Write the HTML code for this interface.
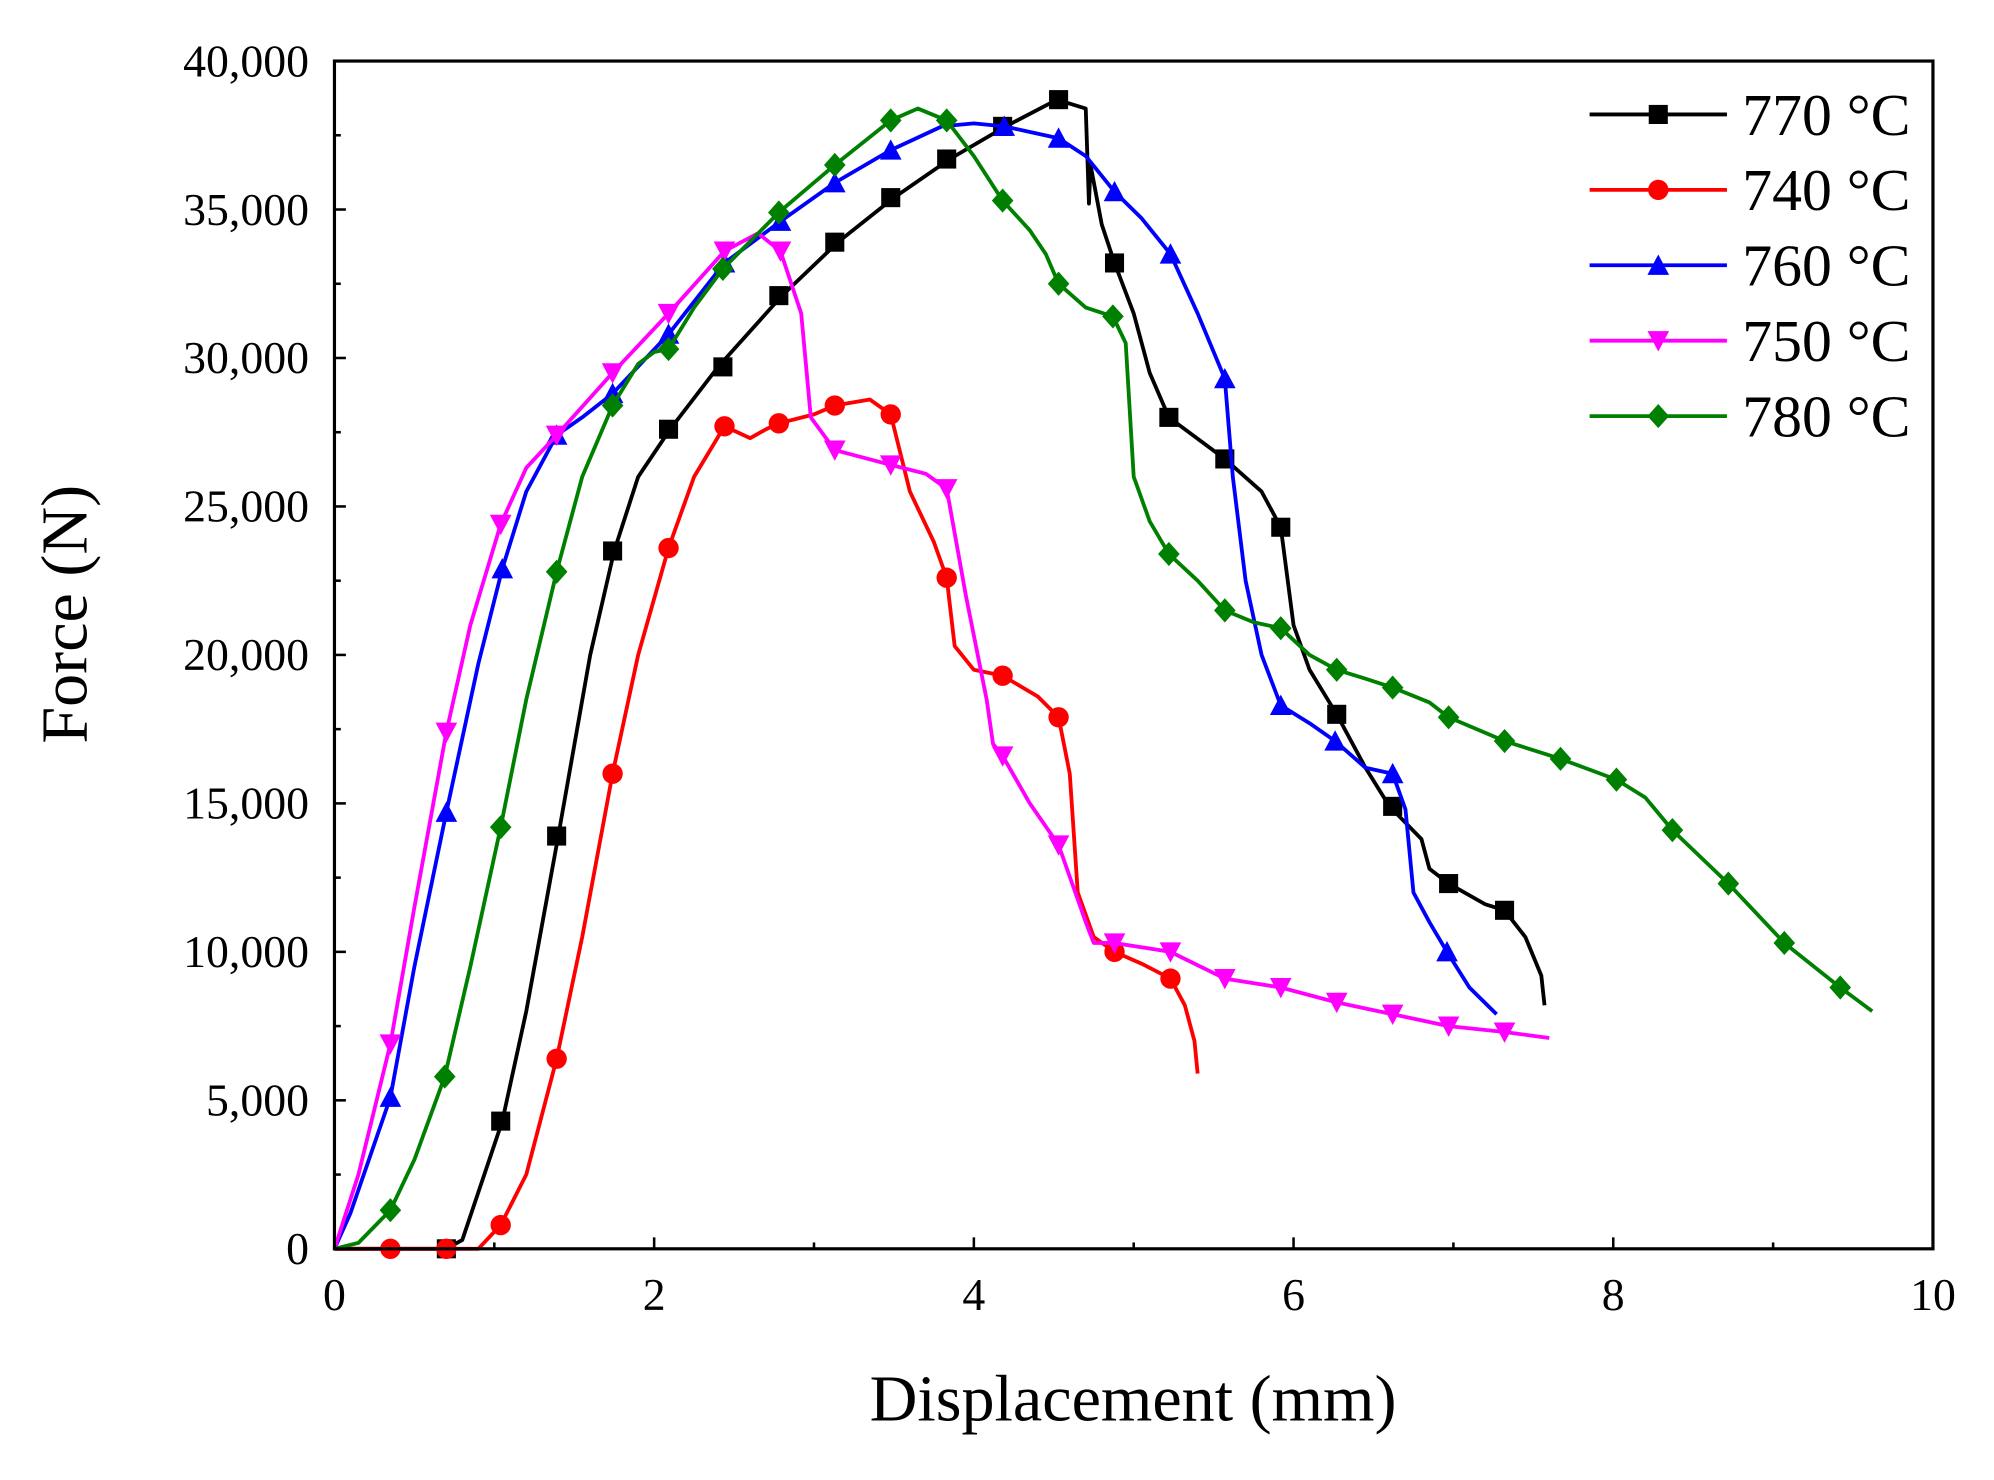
<!DOCTYPE html>
<html><head><meta charset="utf-8"><style>
html,body{margin:0;padding:0;background:#fff;}
svg{display:block;font-family:"Liberation Serif",serif;}
</style></head><body>
<svg id="chart" width="1994" height="1480" viewBox="0 0 1568 1163.8" preserveAspectRatio="none" xmlns="http://www.w3.org/2000/svg">
<rect x="0" y="0" width="1568" height="1164" fill="#fff"/>
<g id="plot"></g>
<g id="axes"></g>
<g id="legend"></g>
</svg>
<script>
const xTicks = [0,2,4,6,8,10];
const yTicks = [0,5000,10000,15000,20000,25000,30000,35000,40000];
const yTickLabels = ["0","5,000","10,000","15,000","20,000","25,000","30,000","35,000","40,000"];
const seriesNames = ["770 °C","740 °C","760 °C","750 °C","780 °C"];
const seriesColors = ["#000000","#ff0000","#0000ff","#ff00ff","#008000"];
const seriesMarkers = ["square","circle","triangle","invtriangle","diamond"];
// line data [mm, kN]
const line770 = [[0,0],[0.7,0],[0.8,0.3],[1.05,4.3],[1.2,8],[1.4,13.9],[1.6,20],[1.75,23.5],[1.9,26],[2.1,27.6],[2.4,29.7],[2.8,32.1],[3.15,33.9],[3.5,35.4],[3.85,36.7],[4.2,37.8],[4.52,38.7],[4.7,38.4],[4.72,35.2],[4.73,36.5],[4.8,34.5],[4.88,33.2],[5.0,31.5],[5.1,29.5],[5.22,28.0],[5.57,26.6],[5.8,25.5],[5.92,24.3],[6.0,21],[6.1,19.5],[6.27,18.0],[6.45,16.2],[6.6,14.9],[6.8,13.8],[6.85,12.8],[6.97,12.3],[7.2,11.6],[7.32,11.4],[7.45,10.5],[7.55,9.2],[7.57,8.2]];
const marks770 = [[0.7,0],[1.04,4.3],[1.39,13.9],[1.74,23.5],[2.09,27.6],[2.43,29.7],[2.78,32.1],[3.13,33.9],[3.48,35.4],[3.83,36.7],[4.18,37.8],[4.53,38.7],[4.88,33.2],[5.22,28.0],[5.57,26.6],[5.92,24.3],[6.27,18.0],[6.62,14.9],[6.97,12.3],[7.32,11.4]];
const line740 = [[0,0],[0.9,0],[1.04,0.8],[1.2,2.5],[1.39,6.4],[1.55,10.5],[1.74,16],[1.9,20],[2.09,23.6],[2.25,26],[2.44,27.7],[2.6,27.3],[2.7,27.6],[2.78,27.8],[3.0,28.1],[3.13,28.4],[3.35,28.6],[3.48,28.1],[3.6,25.5],[3.75,23.8],[3.83,22.6],[3.88,20.3],[4.0,19.5],[4.18,19.3],[4.4,18.6],[4.53,17.9],[4.6,16],[4.65,12],[4.75,10.5],[4.88,10.0],[5.05,9.6],[5.23,9.1],[5.32,8.2],[5.38,7],[5.4,5.9]];
const marks740 = [[0.35,0],[0.7,0],[1.04,0.8],[1.39,6.4],[1.74,16],[2.09,23.6],[2.44,27.7],[2.78,27.8],[3.13,28.4],[3.48,28.1],[3.83,22.6],[4.18,19.3],[4.53,17.9],[4.88,10.0],[5.23,9.1]];
const line760 = [[0,0],[0.1,1.2],[0.35,5.1],[0.5,9.5],[0.7,14.7],[0.9,19.7],[1.05,22.9],[1.2,25.5],[1.39,27.4],[1.55,28],[1.74,28.8],[2.09,30.8],[2.44,33.2],[2.79,34.6],[3.13,35.9],[3.48,37.0],[3.8,37.8],[4.0,37.9],[4.19,37.8],[4.53,37.4],[4.7,36.8],[4.88,35.6],[5.05,34.7],[5.23,33.5],[5.4,31.5],[5.57,29.3],[5.62,26],[5.7,22.5],[5.8,20],[5.92,18.3],[6.1,17.7],[6.26,17.1],[6.45,16.2],[6.62,16.0],[6.7,14.8],[6.75,12],[6.85,11],[6.96,10.0],[7.1,8.8],[7.27,7.9]];
const marks760 = [[0.35,5.1],[0.7,14.7],[1.05,22.9],[1.39,27.4],[1.74,28.8],[2.09,30.8],[2.44,33.2],[2.79,34.6],[3.13,35.9],[3.48,37.0],[4.19,37.8],[4.53,37.4],[4.88,35.6],[5.23,33.5],[5.57,29.3],[5.92,18.3],[6.26,17.1],[6.62,16.0],[6.96,10.0]];
const line750 = [[0,0],[0.15,2.5],[0.35,6.9],[0.5,11.5],[0.7,17.4],[0.85,21],[1.04,24.4],[1.2,26.3],[1.39,27.4],[1.74,29.5],[2.09,31.5],[2.44,33.6],[2.65,34.2],[2.79,33.6],[2.92,31.5],[2.98,28],[3.13,26.9],[3.48,26.4],[3.7,26.1],[3.83,25.6],[3.95,22],[4.08,18.5],[4.12,17],[4.18,16.6],[4.35,15],[4.53,13.6],[4.7,11],[4.75,10.3],[4.88,10.3],[5.23,10.0],[5.57,9.1],[5.92,8.8],[6.27,8.3],[6.62,7.9],[6.97,7.5],[7.32,7.3],[7.6,7.1]];
const marks750 = [[0.35,6.9],[0.7,17.4],[1.04,24.4],[1.39,27.4],[1.74,29.5],[2.09,31.5],[2.44,33.6],[2.79,33.6],[3.13,26.9],[3.48,26.4],[3.83,25.6],[4.18,16.6],[4.53,13.6],[4.88,10.3],[5.23,10.0],[5.57,9.1],[5.92,8.8],[6.27,8.3],[6.62,7.9],[6.97,7.5],[7.32,7.3]];
const line780 = [[0,0],[0.15,0.2],[0.35,1.3],[0.5,3],[0.69,5.8],[0.85,9.5],[1.04,14.2],[1.2,18.5],[1.39,22.8],[1.55,26],[1.74,28.4],[1.9,29.8],[2.0,30.2],[2.09,30.3],[2.25,31.7],[2.43,33.0],[2.78,34.9],[3.13,36.5],[3.48,38.0],[3.65,38.4],[3.83,38.0],[4.0,36.8],[4.18,35.3],[4.35,34.3],[4.45,33.5],[4.53,32.5],[4.7,31.7],[4.87,31.4],[4.95,30.5],[5.0,26],[5.1,24.5],[5.22,23.4],[5.4,22.5],[5.57,21.5],[5.75,21.1],[5.92,20.9],[6.1,20],[6.27,19.5],[6.45,19.2],[6.62,18.9],[6.85,18.4],[6.97,17.9],[7.32,17.1],[7.67,16.5],[8.02,15.8],[8.2,15.2],[8.37,14.1],[8.72,12.3],[9.07,10.3],[9.42,8.8],[9.62,8.0]];
const marks780 = [[0.35,1.3],[0.69,5.8],[1.04,14.2],[1.39,22.8],[1.74,28.4],[2.09,30.3],[2.43,33.0],[2.78,34.9],[3.13,36.5],[3.48,38.0],[3.83,38.0],[4.18,35.3],[4.53,32.5],[4.87,31.4],[5.22,23.4],[5.57,21.5],[5.92,20.9],[6.27,19.5],[6.62,18.9],[6.97,17.9],[7.32,17.1],[7.67,16.5],[8.02,15.8],[8.37,14.1],[8.72,12.3],[9.07,10.3],[9.42,8.8]];

const seriesLines = [line770,line740,line760,line750,line780];
const seriesMarks = [marks770,marks740,marks760,marks750,marks780];

const NS="http://www.w3.org/2000/svg";
const X0=263,X1=1520,Y0=982,Y1=48;
function xs(v){return X0+(v/10)*(X1-X0);}
function ys(kn){return Y0-(kn/40)*(Y0-Y1);}
function ysN(n){return ys(n/1000);}
function mk(tag,attrs,parent){const e=document.createElementNS(NS,tag);for(const k in attrs)e.setAttribute(k,attrs[k]);parent.appendChild(e);return e;}
function marker(type,cx,cy,col,parent){
  const s=7.5;let e;
  if(type==="square"){e=mk("rect",{x:cx-s,y:cy-s,width:2*s,height:2*s,fill:col},parent);}
  else if(type==="circle"){e=mk("circle",{cx:cx,cy:cy,r:s+0.5,fill:col},parent);}
  else if(type==="triangle"){e=mk("polygon",{points:`${cx},${cy-s-1} ${cx-s-1},${cy+s} ${cx+s+1},${cy+s}`,fill:col},parent);}
  else if(type==="invtriangle"){e=mk("polygon",{points:`${cx},${cy+s+1} ${cx-s-1},${cy-s} ${cx+s+1},${cy-s}`,fill:col},parent);}
  else {e=mk("polygon",{points:`${cx},${cy-s-2} ${cx+s+1},${cy} ${cx},${cy+s+2} ${cx-s-1},${cy}`,fill:col},parent);}
  return e;
}
const plot=document.getElementById("plot");
seriesLines.forEach((pts,i)=>{
  const g=mk("g",{},plot);
  
  
  const p=mk("polyline",{points:pts.map(d=>xs(d[0])+","+ys(d[1])).join(" "),fill:"none",stroke:seriesColors[i],"stroke-width":3,"stroke-linejoin":"round"},g);
  
  
  seriesMarks[i].forEach(d=>{
    const m=marker(seriesMarkers[i],xs(d[0]),ys(d[1]),seriesColors[i],g);
    
    
  });
});
const axes=document.getElementById("axes");
const frame=mk("rect",{x:X0,y:Y1,width:X1-X0,height:Y0-Y1,fill:"none",stroke:"#000","stroke-width":2.5},axes);


for(let v=0;v<=10;v+=1){
  const x=xs(v);const len=(v%2===0)?9:5;
  mk("line",{x1:x,y1:Y0,x2:x,y2:Y0-len,stroke:"#000","stroke-width":2},axes);
}
xTicks.forEach(v=>{
  const t=mk("text",{x:xs(v),y:Y0+48,"text-anchor":"middle","font-size":36},axes);
  t.textContent=String(v);
  
  
});
for(let v=0;v<=40000;v+=2500){
  const y=ysN(v);const len=(v%5000===0)?9:5;
  mk("line",{x1:X0,y1:y,x2:X0+len,y2:y,stroke:"#000","stroke-width":2},axes);
}
yTicks.forEach((v,i)=>{
  const t=mk("text",{x:X0-20,y:ysN(v)+12,"text-anchor":"end","font-size":36},axes);
  t.textContent=yTickLabels[i];
  
  
});
const xt=mk("text",{x:891,y:1117,"text-anchor":"middle","font-size":52},axes);
xt.textContent="Displacement (mm)";


const yt=mk("text",{x:0,y:0,"text-anchor":"middle","font-size":52,transform:"translate(68,483) rotate(-90)"},axes);
yt.textContent="Force (N)";


const legend=document.getElementById("legend");
seriesNames.forEach((n,i)=>{
  const y=90+i*59.3;
  const g=mk("g",{},legend);
  
  
  mk("line",{x1:1250,y1:y,x2:1358,y2:y,stroke:seriesColors[i],"stroke-width":3},g);
  marker(seriesMarkers[i],1304,y,seriesColors[i],g);
  const t=mk("text",{x:1370,y:y+16,"font-size":47},g);
  t.textContent=n;
});
</script>
</body></html>
